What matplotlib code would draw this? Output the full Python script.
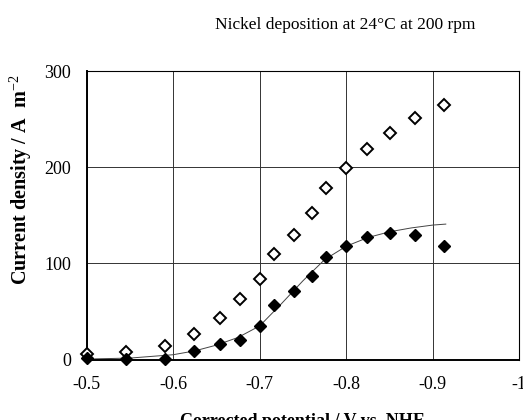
import matplotlib.pyplot as plt
import numpy as np

plt.rcParams['font.family'] = ['Liberation Serif', 'DejaVu Serif']
plt.rcParams['mathtext.fontset'] = 'custom'
plt.rcParams['mathtext.rm'] = 'Liberation Serif'

# potentiel corrige (V vs NHE)
potentiel = [-0.5, -0.546, -0.590, -0.624, -0.654, -0.677, -0.700, -0.717,
             -0.740, -0.760, -0.777, -0.800, -0.824, -0.850, -0.880, -0.913]
# densite de courant totale (losanges vides)
courant_total = [6, 8, 14, 27, 43, 63, 84, 110, 130, 153, 179, 199, 219, 236, 251, 265]
# densite de courant nickel (losanges pleins)
courant_ni = [2, 1, 1, 9, 16, 20, 35, 57, 71, 87, 107, 118, 128, 132, 130, 118]

# courbe ajustee
fit_x = [-0.5, -0.55, -0.6, -0.625, -0.65, -0.675, -0.7, -0.725, -0.75,
         -0.775, -0.8, -0.825, -0.85, -0.875, -0.9, -0.915]
fit_y = [0.5, 1.5, 5, 9, 15, 23, 35, 58, 82, 104, 118, 127, 133, 137, 140, 141]

fig = plt.figure(figsize=(5.23, 4.2), dpi=100)
ax = fig.add_axes([0.1656, 0.144, 0.8274, 0.686])

ax.plot(fit_x, fit_y, color='#444444', lw=0.7, zorder=2)
ax.plot(potentiel, courant_total, ls='none', marker='D', ms=6.5, mfc='white',
        mec='black', mew=1.4, zorder=3, clip_on=False)
ax.plot(potentiel, courant_ni, ls='none', marker='D', ms=6.5, mfc='black',
        mec='black', zorder=4, clip_on=False)

ax.set_xlim(-0.5, -1.0)
ax.set_ylim(0, 300)
ax.set_xticks([-0.5, -0.6, -0.7, -0.8, -0.9, -1.0])
ax.set_xticklabels(['-0.5', '-0.6', '-0.7', '-0.8', '-0.9', '-1'])
ax.set_yticks([0, 100, 200, 300])
ax.grid(True, color='#333333', lw=0.7)
ax.set_axisbelow(True)
ax.tick_params(length=0, labelsize=13)
ax.tick_params(axis='x', pad=12)
ax.tick_params(axis='y', pad=11)
for s in ['top', 'right']:
    ax.spines[s].set_linewidth(0.8)
for s in ['left', 'bottom']:
    ax.spines[s].set_linewidth(1.4)

ax.set_xlabel('Corrected potential / V vs  NHE', fontsize=13, fontweight='bold', labelpad=14)
ax.set_ylabel('Current density / A  m$^{-2}$', fontsize=14.5, fontweight='bold')
ax.yaxis.set_label_coords(-0.122, 0.623)

fig.text(0.66, 0.94, 'Nickel deposition at 24°C at 200 rpm', fontsize=12.5, ha='center', va='center')

fig.savefig('out.png', dpi=100)
